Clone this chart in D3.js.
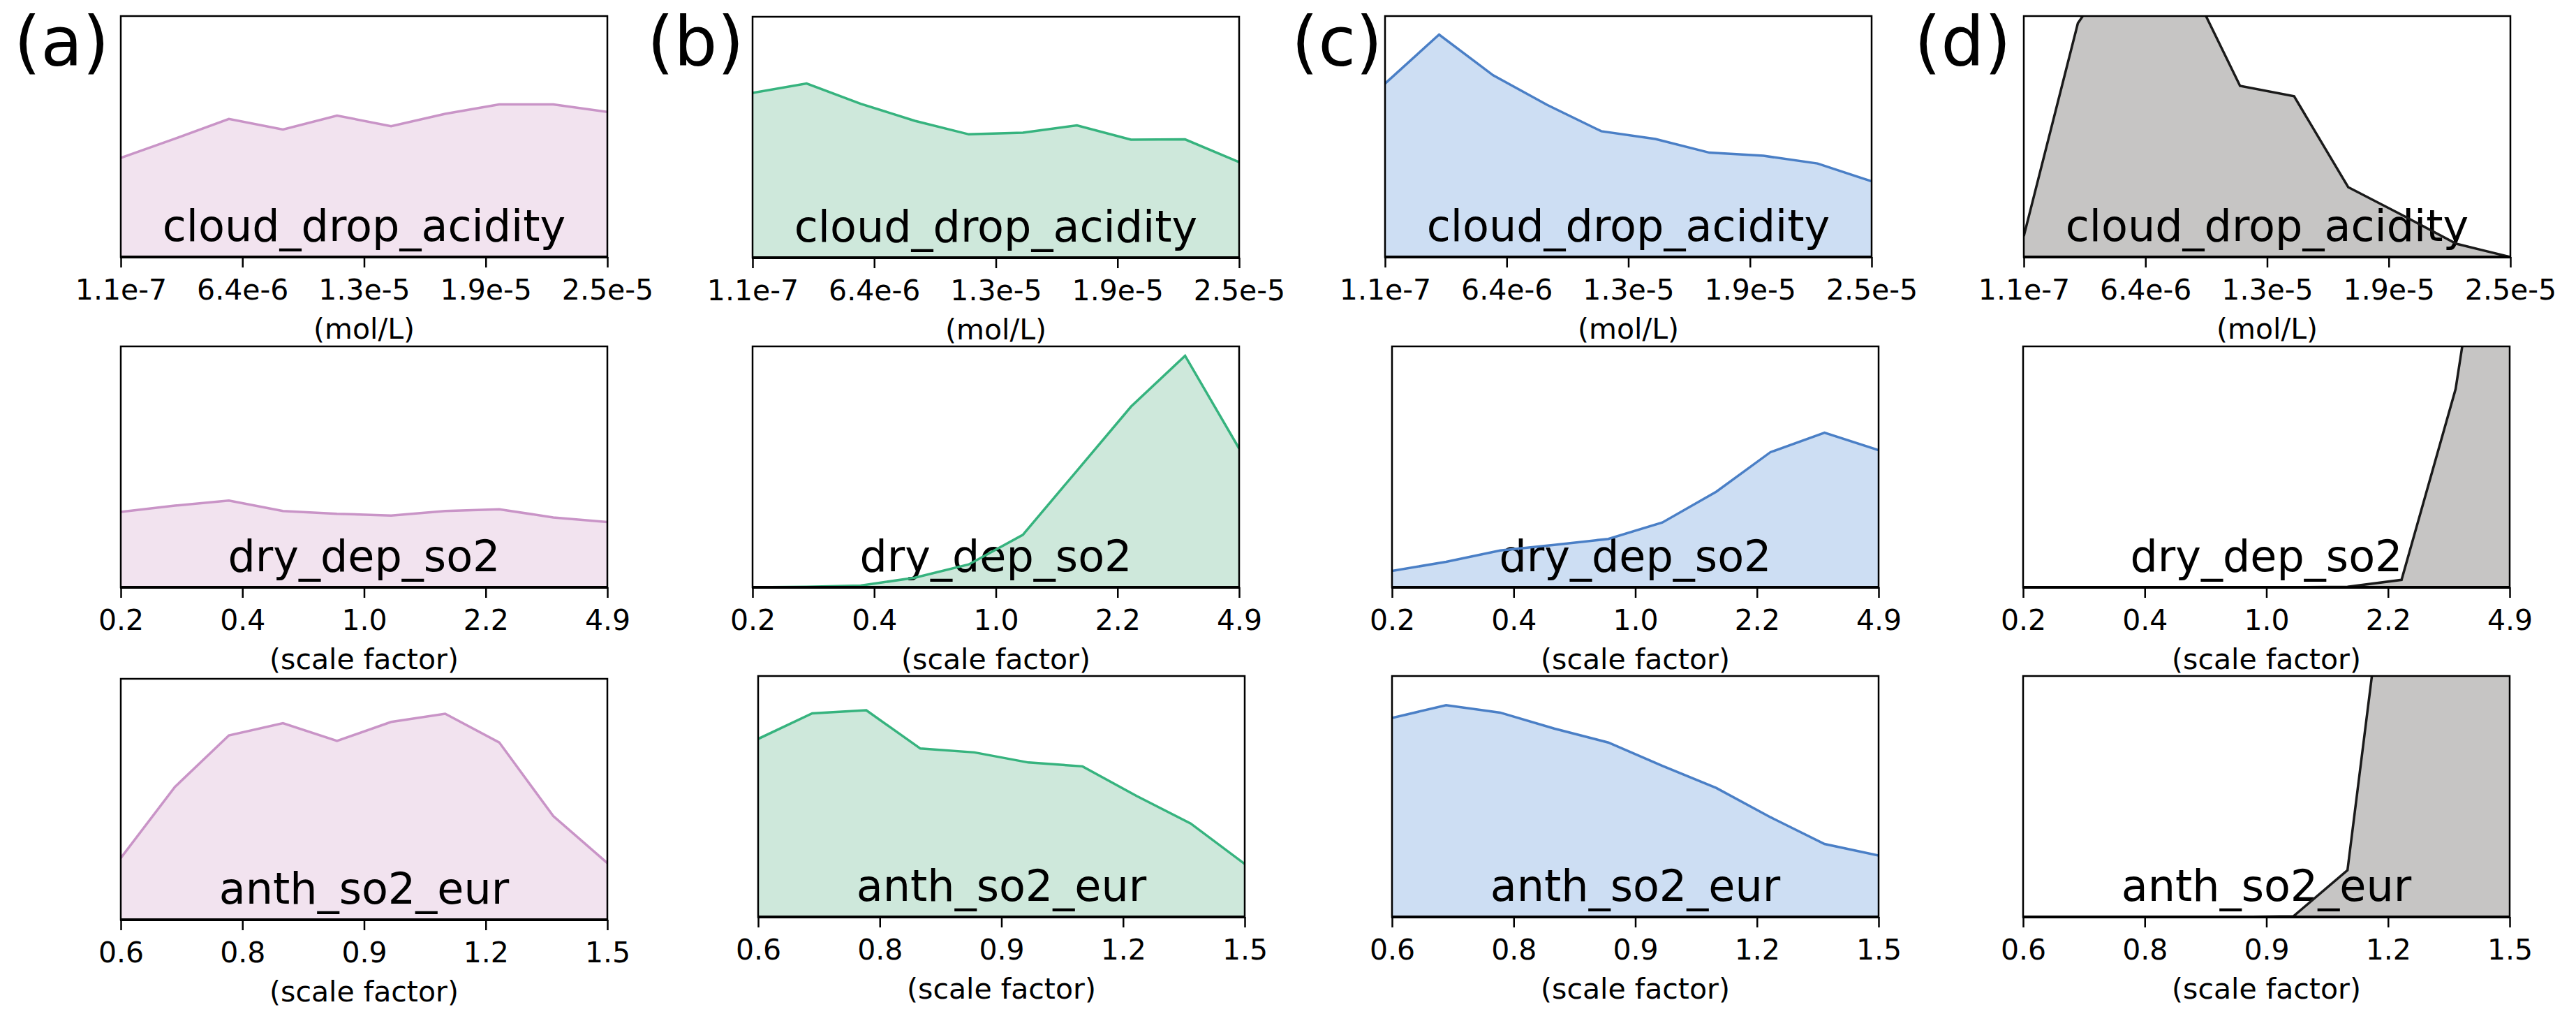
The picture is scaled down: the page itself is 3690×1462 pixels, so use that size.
<!DOCTYPE html>
<html>
<head>
<meta charset="utf-8">
<script src="https://cdn.jsdelivr.net/npm/d3@7/dist/d3.min.js"></script>
<style>
  html, body { margin: 0; padding: 0; background: #ffffff; }
  svg { display: block; font-family: "DejaVu Sans", sans-serif; }
</style>
</head>
<body>
<svg id="chart" width="3690" height="1462"></svg>
<script>
// ---------------- DATA ----------------
const panelLetters = ["(a)", "(b)", "(c)", "(d)"];
const parameters = ["cloud_drop_acidity", "dry_dep_so2", "anth_so2_eur"];
const units = ["(mol/L)", "(scale factor)", "(scale factor)"];
const tickLabelsCloud = ["1.1e-7", "6.4e-6", "1.3e-5", "1.9e-5", "2.5e-5"];
const tickLabelsDry = ["0.2", "0.4", "1.0", "2.2", "4.9"];
const tickLabelsAnth = ["0.6", "0.8", "0.9", "1.2", "1.5"];
const tickLabels = [tickLabelsCloud, tickLabelsDry, tickLabelsAnth];
const binIndex = [0, 1, 2, 3, 4, 5, 6, 7, 8, 9];
const tickIndex = [0, 2.25, 4.5, 6.75, 9];

// density (relative to each panel's y-limit of 1)
const aCloud = [0.411, 0.491, 0.573, 0.529, 0.587, 0.543, 0.594, 0.633, 0.633, 0.602];
const aDry   = [0.313, 0.339, 0.360, 0.317, 0.305, 0.298, 0.317, 0.324, 0.290, 0.271];
const aAnth  = [0.256, 0.551, 0.765, 0.816, 0.742, 0.821, 0.855, 0.736, 0.430, 0.235];

const bCloud = [0.684, 0.723, 0.639, 0.568, 0.512, 0.519, 0.549, 0.490, 0.491, 0.397];
const bDry   = [0.000, 0.002, 0.007, 0.040, 0.095, 0.218, 0.484, 0.750, 0.961, 0.576];
const bAnth  = [0.739, 0.845, 0.858, 0.699, 0.683, 0.641, 0.625, 0.502, 0.388, 0.220];

const cCloud = [0.720, 0.923, 0.754, 0.631, 0.522, 0.490, 0.433, 0.420, 0.388, 0.314];
const cDry   = [0.068, 0.106, 0.153, 0.176, 0.201, 0.269, 0.397, 0.561, 0.642, 0.569];
const cAnth  = [0.826, 0.879, 0.848, 0.782, 0.724, 0.627, 0.535, 0.414, 0.303, 0.255];

const dCloud = [0.087, 0.970, 1.300, 1.170, 0.710, 0.667, 0.290, 0.174, 0.055, 0.000];
const dDry   = [0.000, 0.000, 0.000, 0.000, 0.000, 0.000, 0.002, 0.031, 0.823, 2.270];
const dAnth  = [0.000, 0.000, 0.000, 0.000, 0.000, 0.003, 0.194, 1.980, 2.500, 2.200];

const seriesByColumn = [
  [aCloud, aDry, aAnth],
  [bCloud, bDry, bAnth],
  [cCloud, cDry, cAnth],
  [dCloud, dDry, dAnth]
];

// ---------------- STYLE / LAYOUT ----------------
const lineColors = ["#c994c7", "#36b37e", "#4a7fc6", "#1a1a1a"];
const fillColors = ["#f2e3ef", "#cee8db", "#cddef3", "#c6c5c4"];

const boxW = 697, boxH = 345;
const boxLeft = [[173, 173, 173], [1078, 1078, 1086], [1984, 1994, 1994], [2899, 2898, 2898]];
const boxTop  = [[23, 496, 972], [24, 496, 968], [23, 496, 968], [23, 496, 968]];
const letterX = [20, 927, 1850, 2742];
const letterBaseline = 94;

const tickFont = 41, labelFont = 62, letterFont = 98;

const svg = d3.select("#chart");
svg.append("rect").attr("width", 3690).attr("height", 1462).attr("fill", "#ffffff");

const defs = svg.append("defs");

seriesByColumn.forEach((colSeries, c) => {
  colSeries.forEach((values, r) => {
    const left = boxLeft[c][r], top = boxTop[c][r];
    const x = d3.scaleLinear().domain([0, 9]).range([left, left + boxW]);
    const y = d3.scaleLinear().domain([0, 1]).range([top + boxH, top]);
    const clipId = `clip-${c}-${r}`;
    defs.append("clipPath").attr("id", clipId)
      .append("rect").attr("x", left).attr("y", top).attr("width", boxW).attr("height", boxH);

    const g = svg.append("g");
    const pts = binIndex.map((i) => ({ i, v: values[i] }));

    const area = d3.area().x(d => x(d.i)).y0(y(0)).y1(d => y(d.v));
    const line = d3.line().x(d => x(d.i)).y(d => y(d.v));

    g.append("path").datum(pts).attr("d", area)
      .attr("fill", fillColors[c]).attr("stroke", "none")
      .attr("clip-path", `url(#${clipId})`);

    // parameter name
    g.append("text")
      .attr("x", left + boxW / 2).attr("y", top + boxH - 23)
      .attr("text-anchor", "middle")
      .attr("font-size", labelFont)
      .attr("fill", "#000")
      .text(parameters[r]);

    g.append("path").datum(pts).attr("d", line)
      .attr("fill", "none").attr("stroke", lineColors[c])
      .attr("stroke-width", 3.5).attr("stroke-linejoin", "miter")
      .attr("clip-path", `url(#${clipId})`);

    // frame
    g.append("rect").attr("x", left).attr("y", top).attr("width", boxW).attr("height", boxH)
      .attr("fill", "none").attr("stroke", "#000").attr("stroke-width", 2.5);
    g.append("line").attr("x1", left - 1).attr("x2", left + boxW + 1)
      .attr("y1", top + boxH).attr("y2", top + boxH)
      .attr("stroke", "#000").attr("stroke-width", 4);

    // x axis
    const axis = d3.axisBottom(x)
      .tickValues(tickIndex)
      .tickFormat((d, k) => tickLabels[r][k])
      .tickSize(15).tickSizeOuter(0).tickPadding(17);
    const ag = g.append("g").attr("transform", `translate(0,${top + boxH})`).call(axis);
    ag.select(".domain").remove();
    ag.selectAll(".tick line").attr("stroke", "#000").attr("stroke-width", 2.5);
    ag.selectAll(".tick text").attr("font-size", tickFont)
      .attr("font-family", "DejaVu Sans, sans-serif").attr("fill", "#000");

    // unit label
    g.append("text")
      .attr("x", left + boxW / 2).attr("y", top + boxH + 117)
      .attr("text-anchor", "middle")
      .attr("font-size", tickFont).attr("fill", "#000")
      .text(units[r]);
  });

  svg.append("text")
    .attr("x", letterX[c]).attr("y", letterBaseline)
    .attr("font-size", letterFont).attr("fill", "#000")
    .text(panelLetters[c]);
});
</script>
</body>
</html>
